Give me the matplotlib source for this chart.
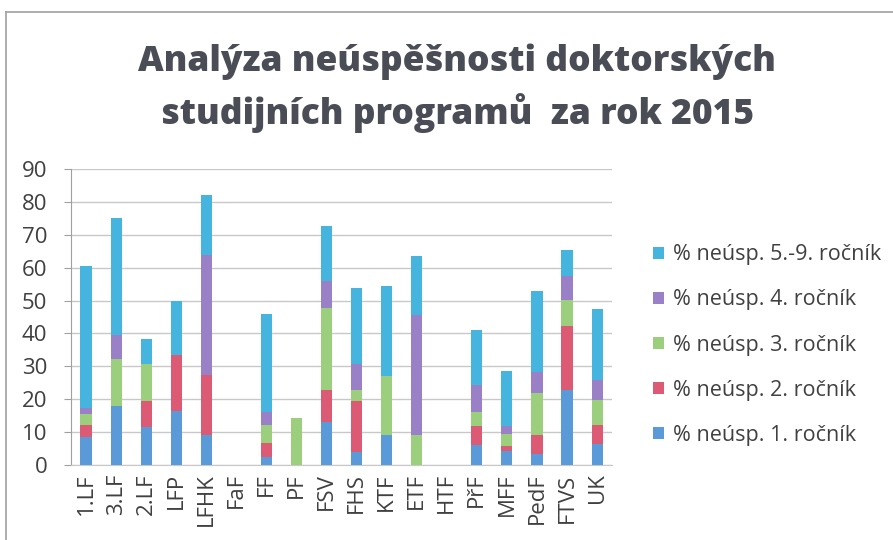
import matplotlib
matplotlib.use('Agg')
import matplotlib.pyplot as plt
import numpy as np

faculties = ['1.LF', '3.LF', '2.LF', 'LFP', 'LFHK', 'FaF', 'FF', 'PF', 'FSV', 'FHS',
             'KTF', 'ETF', 'HTF', 'PřF', 'MFF', 'PedF', 'FTVS', 'UK']

# segment sizes (percent)
r1 = [8.6, 18.0, 11.5, 16.5, 9.0, 0, 2.5, 0, 13.2, 4.0, 9.0, 0, 0, 6.1, 4.3, 3.2, 22.8, 6.3]
r2 = [3.6, 0, 7.9, 17.0, 18.3, 0, 4.3, 0, 9.5, 15.4, 0, 0, 0, 5.7, 1.5, 6.0, 19.4, 5.9]
r3 = [3.3, 14.3, 11.4, 0, 0, 0, 5.2, 14.4, 25.0, 3.5, 18.2, 9.0, 0, 4.3, 3.5, 12.6, 7.9, 7.5]
r4 = [1.7, 7.1, 0, 0, 36.4, 0, 4.1, 0, 8.2, 7.9, 0, 36.5, 0, 8.1, 2.4, 6.4, 7.5, 6.1]
r59 = [43.3, 35.6, 7.4, 16.5, 18.3, 0, 29.9, 0, 16.8, 22.9, 27.2, 18.0, 0, 16.9, 16.8, 24.6, 7.8, 21.7]

labels = ['% neúsp. 1. ročník', '% neúsp. 2. ročník', '% neúsp. 3. ročník',
          '% neúsp. 4. ročník', '% neúsp. 5.-9. ročník']
colors = ['#5A9AD8', '#DC5A74', '#9CCF7D', '#9A80C6', '#45B5DF']

plt.rcParams['font.family'] = ['Open Sans', 'DejaVu Sans']

fig = plt.figure(figsize=(8.93, 5.40), dpi=100)
ax = fig.add_axes([0.0795, 0.139, 0.606, 0.548])

x = np.arange(len(faculties))
bottom = np.zeros(len(faculties))
for vals, lab, col in zip([r1, r2, r3, r4, r59], labels, colors):
    ax.bar(x, vals, 0.37, bottom=bottom, color=col, label=lab, zorder=3)
    bottom = bottom + np.array(vals)

ax.set_xlim(-0.5, len(faculties) - 0.5)
ax.set_ylim(0, 90)
ax.set_yticks(range(0, 91, 10))
ax.set_xticks(x)
ax.set_xticklabels(faculties, rotation=90, fontsize=16, color='#404040')
ax.tick_params(axis='y', labelsize=16, labelcolor='#404040', color='#a0a0a0', length=5, pad=12)
ax.tick_params(axis='x', length=0, pad=6)
ax.yaxis.grid(True, color='#c8c8c8', linewidth=1, zorder=0)
for s in ['top', 'right']:
    ax.spines[s].set_visible(False)
ax.spines['left'].set_color('#a0a0a0')
ax.spines['bottom'].set_color('#c8c8c8')

h, l = ax.get_legend_handles_labels()
fig.legend(h[::-1], l[::-1], loc='center left', bbox_to_anchor=(0.731, 0.361),
           frameon=False, fontsize=15.5, labelspacing=1.12, handlelength=0.5,
           handleheight=0.5, handletextpad=0.45, labelcolor='#404040',
           borderpad=0, borderaxespad=0)

fig.text(0.512, 0.885, 'Analýza neúspěšnosti doktorských', ha='center', va='center',
         fontsize=25.5, fontweight='heavy', color='#4a4d55')
fig.text(0.512, 0.79, 'studijních programů  za rok 2015', ha='center', va='center',
         fontsize=25.5, fontweight='heavy', color='#4a4d55')

# frame of the scanned chart area
fig.add_artist(plt.Line2D([0.007, 1.0], [0.978, 0.978], color='#a0a0a0', linewidth=1.2))
fig.add_artist(plt.Line2D([0.007, 0.007], [0.0, 0.978], color='#a0a0a0', linewidth=1.2))

fig.savefig('out.png', dpi=100)
